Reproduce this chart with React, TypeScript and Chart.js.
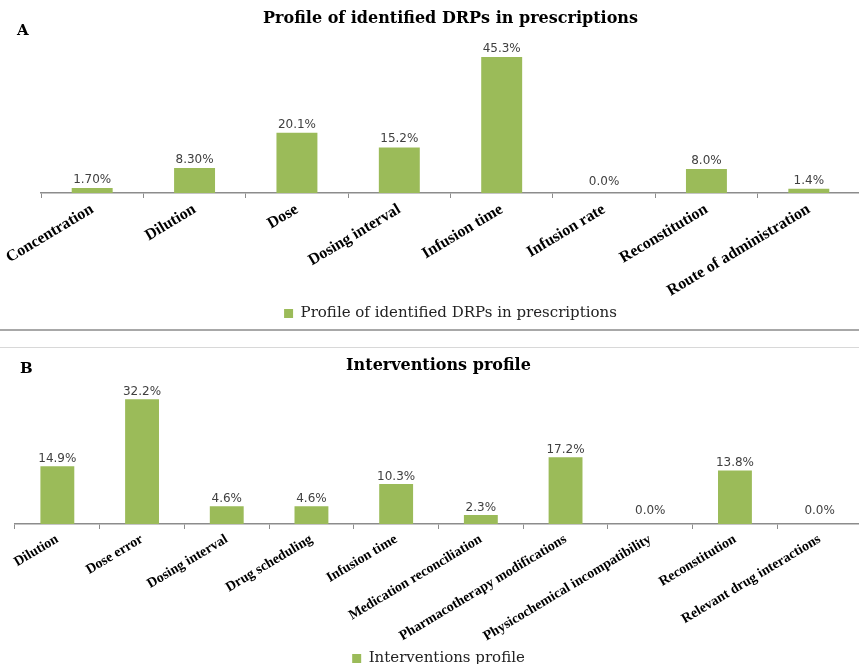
import React, { useEffect, useRef } from "react";
import { Chart, registerables } from "chart.js";

Chart.register(...registerables);

// ---- Panel A data ----
const drpTitle = "Profile of identified DRPs in prescriptions";
const drpCategories = [
  "Concentration",
  "Dilution",
  "Dose",
  "Dosing interval",
  "Infusion time",
  "Infusion rate",
  "Reconstitution",
  "Route of administration",
];
const drpValues = [1.7, 8.3, 20.1, 15.2, 45.3, 0.0, 8.0, 1.4];
const drpValueLabels = ["1.70%", "8.30%", "20.1%", "15.2%", "45.3%", "0.0%", "8.0%", "1.4%"];

// ---- Panel B data ----
const interventionTitle = "Interventions profile";
const interventionCategories = [
  "Dilution",
  "Dose error",
  "Dosing interval",
  "Drug scheduling",
  "Infusion time",
  "Medication reconciliation",
  "Pharmacotherapy modifications",
  "Physicochemical incompatibility",
  "Reconstitution",
  "Relevant drug interactions",
];
const interventionValues = [14.9, 32.2, 4.6, 4.6, 10.3, 2.3, 17.2, 0.0, 13.8, 0.0];
const interventionValueLabels = ["14.9%", "32.2%", "4.6%", "4.6%", "10.3%", "2.3%", "17.2%", "0.0%", "13.8%", "0.0%"];

const BAR_COLOR = "#9BBB59";
const AXIS_COLOR = "#8c8c8c";

function makeValueLabelPlugin(labels: string[], gap: number, zeroGap: number) {
  return {
    id: "valueLabels",
    afterDatasetsDraw(chart: any) {
      const ctx = chart.ctx;
      const meta = chart.getDatasetMeta(0);
      const ds = chart.data.datasets[0].data as number[];
      ctx.save();
      ctx.font = "12px 'DejaVu Sans'";
      ctx.fillStyle = "#404040";
      ctx.textAlign = "center";
      ctx.textBaseline = "alphabetic";
      meta.data.forEach((bar: any, i: number) => {
        const g = ds[i] === 0 ? zeroGap : gap;
        ctx.fillText(labels[i], bar.x, bar.y - g);
      });
      ctx.restore();
    },
  };
}

type PanelProps = {
  title: string;
  categories: string[];
  values: number[];
  valueLabels: string[];
  width: number;
  height: number;
  yMax: number;
  titlePadTop: number;
  xHeight: number;
  padLeft: number;
  padRight: number;
  labelSize: number;
  labelGap: number;
  zeroGap: number;
};

function BarPanel(p: PanelProps) {
  const ref = useRef<HTMLCanvasElement>(null);
  useEffect(() => {
    const chart = new Chart(ref.current as HTMLCanvasElement, {
      type: "bar",
      data: {
        labels: p.categories,
        datasets: [
          {
            label: p.title,
            data: p.values,
            backgroundColor: BAR_COLOR,
            borderWidth: 0,
            barPercentage: 0.5,
            categoryPercentage: 0.8,
          },
        ],
      },
      options: {
        responsive: false,
        animation: false,
        events: [],
        layout: { padding: { left: p.padLeft, right: p.padRight, top: 0, bottom: 0 } },
        plugins: {
          title: {
            display: true,
            text: p.title,
            color: "#000",
            font: { family: "'DejaVu Serif'", size: 16, weight: "bold" },
            padding: { top: p.titlePadTop, bottom: 10 },
          },
          legend: {
            display: true,
            position: "bottom",
            labels: {
              boxWidth: 9,
              boxHeight: 9,
              color: "#222",
              font: { family: "'DejaVu Serif'", size: 15 },
              padding: 10,
            },
          },
          tooltip: { enabled: false },
        },
        scales: {
          x: {
            grid: {
              display: true,
              drawOnChartArea: false,
              drawTicks: true,
              tickLength: 5,
              color: AXIS_COLOR,
              offset: true,
            },
            border: { display: true, color: AXIS_COLOR, width: 1.5 },
            ticks: {
              autoSkip: false,
              minRotation: 31,
              maxRotation: 31,
              padding: 2,
              color: "#000",
              font: { family: "'Liberation Serif'", size: p.labelSize, weight: "bold" },
            },
            afterFit: (s: any) => {
              s.height = p.xHeight;
            },
          },
          y: { display: false, min: 0, max: p.yMax },
        },
      } as any,
      plugins: [makeValueLabelPlugin(p.valueLabels, p.labelGap, p.zeroGap)],
    });
    return () => chart.destroy();
  }, []);
  return (
    <canvas
      ref={ref}
      width={p.width}
      height={p.height}
      style={{ display: "block", width: p.width, height: p.height }}
    />
  );
}

export default function App() {
  const letterStyle: React.CSSProperties = {
    position: "absolute",
    fontFamily: "'DejaVu Serif'",
    fontWeight: "bold",
    fontSize: 15,
    lineHeight: "15px",
    color: "#000",
  };
  return (
    <div
      style={{
        position: "absolute",
        left: 0,
        top: 0,
        width: 859,
        height: 664,
        overflow: "hidden",
        background: "#fff",
      }}
    >
      <div style={{ position: "absolute", left: 0, top: 0 }}>
        <BarPanel
          title={drpTitle}
          categories={drpCategories}
          values={drpValues}
          valueLabels={drpValueLabels}
          width={876}
          height={331}
          yMax={51.6}
          titlePadTop={9}
          xHeight={103}
          padLeft={41}
          padRight={16}
          labelSize={16}
          labelGap={5}
          zeroGap={8}
        />
      </div>
      <div style={{ position: "absolute", left: 0, top: 348 }}>
        <BarPanel
          title={interventionTitle}
          categories={interventionCategories}
          values={interventionValues}
          valueLabels={interventionValueLabels}
          width={876}
          height={328}
          yMax={35.8}
          titlePadTop={8}
          xHeight={117}
          padLeft={15}
          padRight={14}
          labelSize={14}
          labelGap={4}
          zeroGap={10}
        />
      </div>
      <div style={{ position: "absolute", left: 0, top: 329, width: 859, height: 2, background: "#a8a8a8" }} />
      <div style={{ position: "absolute", left: 0, top: 347, width: 859, height: 1, background: "#d8d8d8" }} />
      <div style={{ ...letterStyle, left: 17, top: 23 }}>A</div>
      <div style={{ ...letterStyle, left: 20, top: 361 }}>B</div>
    </div>
  );
}
